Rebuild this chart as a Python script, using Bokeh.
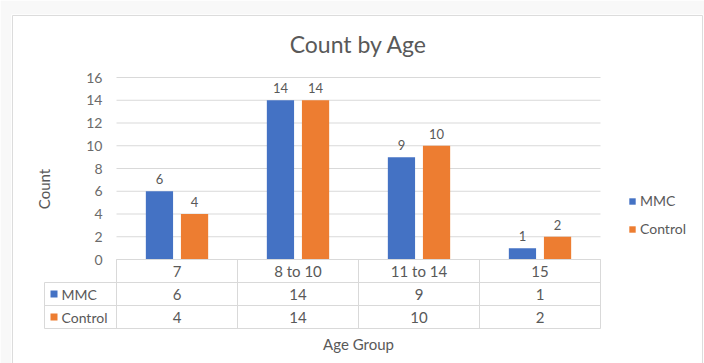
from bokeh.plotting import figure
from bokeh.models import (ColumnDataSource, FixedTicker, Legend, LegendItem, LabelSet, Range1d)
from bokeh.embed import file_html
from bokeh.resources import INLINE
from bokeh.core.properties import value

# ---- data ----
categories = ["7", "8 to 10", "11 to 14", "15"]
series_names = ["MMC", "Control"]
mmc = [6, 14, 9, 1]
control = [4, 14, 10, 2]
y_ticks = [0, 2, 4, 6, 8, 10, 12, 14, 16]
title_text = "Count by Age"
x_title = "Age Group"
y_title = "Count"

# ---- style ----
BLUE = "#4472C4"
ORANGE = "#ED7D31"
TEXT = "#595959"
TICK = "#6b6b6b"
GRID = "#D9D9D9"
FONT = "Lato"
OUTSIDE = "#f8f8f8"

# ---- pixel layout helpers (layout only, not data) ----
CW = 121.0            # px per category column
X0 = 116.0            # px of the left edge of the first category
UY = 182.0 / 16.0     # px per count unit
Y0 = 259.0            # px of count 0
def xd(px):
    return (px - X0) / CW
def yd(py):
    return (Y0 - py) / UY

W, H = 704, 363
FL, FR, FT = 11, 703, 14
p = figure(width=W, height=H,
           x_range=Range1d(xd(FL), xd(FR)), y_range=Range1d(yd(H), yd(FT)),
           output_backend="svg", toolbar_location=None, x_axis_location=None,
           min_border_left=FL, min_border_right=W - FR,
           min_border_top=FT, min_border_bottom=0)
p.outline_line_color = None
p.border_fill_color = OUTSIDE
p.background_fill_color = "white"
p.grid.visible = False

# outer chart border (left, top, right)
p.multi_line(xs=[[xd(12), xd(12), xd(702), xd(702)]],
             ys=[[yd(H + 5), yd(15), yd(15), yd(H + 5)]],
             line_color="#dcdcdc", line_width=1)

n = len(categories)

# horizontal gridlines
p.segment(x0=[0] * len(y_ticks), x1=[n] * len(y_ticks), y0=y_ticks, y1=y_ticks,
          line_color=GRID, line_width=1)

# y axis
ax = p.yaxis[0]
ax.ticker = FixedTicker(ticks=y_ticks)
ax.axis_line_color = None
ax.major_tick_line_color = None
ax.minor_tick_line_color = None
ax.major_tick_in = 0
ax.major_tick_out = 0
ax.major_label_standoff = -int(102 - FL)
ax.major_label_text_font = FONT
ax.major_label_text_font_size = "14px"
ax.major_label_text_color = TICK
ax.axis_label = y_title
ax.axis_label_text_font = FONT
ax.axis_label_text_font_size = "15px"
ax.axis_label_text_font_style = "normal"
ax.axis_label_text_color = TEXT
ax.axis_label_standoff = 30

# bars
off = 0.145
bw = 0.225
cx = [i + 0.5 for i in range(n)]
src = ColumnDataSource(dict(
    xm=[c - off for c in cx], xc=[c + off for c in cx],
    mmc=mmc, control=control,
    mmc_t=[str(v) for v in mmc], control_t=[str(v) for v in control],
))
r1 = p.vbar(x="xm", top="mmc", bottom=0, width=bw, source=src,
            fill_color=BLUE, line_color=None)
r2 = p.vbar(x="xc", top="control", bottom=0, width=bw, source=src,
            fill_color=ORANGE, line_color=None)
for xc, col, tcol in (("xm", "mmc", "mmc_t"), ("xc", "control", "control_t")):
    p.add_layout(LabelSet(x=xc, y=col, text=tcol, source=src, y_offset=7,
                          text_align="center", text_baseline="bottom",
                          text_font=value(FONT), text_font_size="13px",
                          text_color=TEXT))

# title
p.text(x=[n / 2], y=[yd(43)], text=[title_text], text_align="center",
       text_baseline="middle", text_font=value(FONT), text_font_size="23px",
       text_color=TEXT)

# legend (right)
legend = Legend(items=[LegendItem(label=series_names[0], renderers=[r1]),
                       LegendItem(label=series_names[1], renderers=[r2])],
                location=(628 - FL, H - 237), orientation="vertical",
                margin=0, padding=0, border_line_color=None,
                background_fill_alpha=0, glyph_width=8, glyph_height=8,
                label_standoff=4, label_height=16, spacing=11,
                label_text_font=FONT, label_text_font_size="14px",
                label_text_color=TEXT)
p.add_layout(legend)

# ---- data table under the plot ----
RY = 23.0 / UY                      # one table row, in count units
LEG = xd(44)                        # left edge of the legend column
rows = [0, -RY, -2 * RY, -3 * RY]   # table row boundaries
p.segment(x0=[0, LEG, LEG, LEG], x1=[n] * 4, y0=rows, y1=rows,
          line_color=GRID, line_width=1)
vx = [LEG] + list(range(n + 1))
p.segment(x0=vx, x1=vx, y0=[rows[3]] * (n + 2), y1=[rows[1]] + [0] * (n + 1),
          line_color=GRID, line_width=1)

row_mid = [-0.5 * RY, -1.5 * RY, -2.5 * RY]
for yy, labels in ((row_mid[0], categories),
                   (row_mid[1], [str(v) for v in mmc]),
                   (row_mid[2], [str(v) for v in control])):
    p.text(x=cx, y=[yy] * n, text=labels, text_align="center",
           text_baseline="middle", text_font=value(FONT), text_font_size="15px",
           text_color=TEXT)

p.scatter(x=[xd(53.5)] * 2, y=[row_mid[1], row_mid[2]], marker="square", size=7,
          fill_color=[BLUE, ORANGE], line_color=None)
p.text(x=[xd(61)] * 2, y=[row_mid[1], row_mid[2]], text=series_names,
       text_align="left", text_baseline="middle", text_font=value(FONT),
       text_font_size="14px", text_color=TEXT)

# x title
p.text(x=[n / 2], y=[yd(343)], text=[x_title], text_align="center",
       text_baseline="middle", text_font=value(FONT), text_font_size="15px",
       text_color=TEXT)

open("out.html", "w").write(file_html(p, INLINE))
